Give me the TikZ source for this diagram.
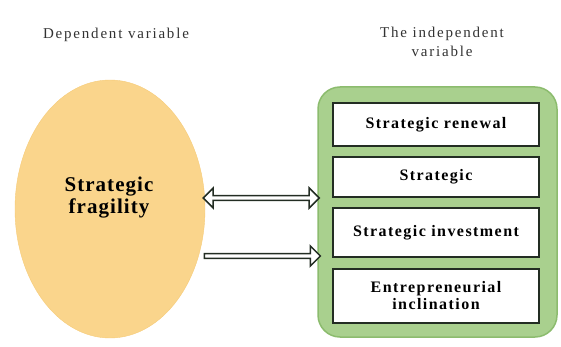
\documentclass[tikz,border=0pt]{standalone}
\usepackage{fontspec}
\setmainfont{Liberation Serif}
\usepackage{xcolor}
\usetikzlibrary{shapes,arrows.meta}
\usetikzlibrary{calc}

\definecolor{fragfill}{RGB}{250,213,140}
\definecolor{fragline}{RGB}{246,203,120}
\definecolor{panelfill}{RGB}{169,208,142}
\definecolor{panelline}{RGB}{140,188,110}
\definecolor{boxline}{RGB}{35,45,35}
\definecolor{txtgray}{RGB}{50,50,50}

\newfontfamily\headfont[LetterSpace=12]{Liberation Serif}
\newfontfamily\boxfont[LetterSpace=9]{Liberation Serif}
\newfontfamily\fragfont[LetterSpace=5]{Liberation Serif}

\begin{document}
\begin{tikzpicture}[x=1pt,y=-1pt]
        \tikzstyle{heading} = [align=center, text=txtgray, font=\headfont\fontsize{15}{19}\selectfont]
        \tikzstyle{frag} = [ellipse, fill=fragfill, draw=fragline, minimum width=190pt, minimum height=258pt, inner sep=0pt]
        \tikzstyle{panel} = [rectangle, rounded corners=22pt, fill=panelfill, draw=panelline, line width=1.5pt, minimum width=239pt, minimum height=250pt]
        \tikzstyle{factor} = [rectangle, draw=boxline, line width=1.8pt, fill=white, minimum width=206pt, align=center, font=\boxfont\bfseries\fontsize{16}{17}\selectfont]
        \tikzstyle{block} = [draw=boxline, line width=1.5pt, fill=white, inner sep=0pt, minimum width=20pt, minimum height=116pt]

        \useasboundingbox (0,0) rectangle (561,347);

        \node[heading] (dep) at (116,35) {Dependent variable};
        \node[heading] (indep) at (442,42) {The independent\\variable};

        \node[frag] (frag) at (110,209) {};
        \node[font=\fragfont\bfseries\fontsize{21}{22}\selectfont, align=center] (fragtext) at (109,198) {Strategic\\fragility};

        \node[panel] (panel) at (437.5,212) {};
        \node[factor, minimum height=43pt] (f1) at (436,124.5) {Strategic renewal};
        \node[factor, minimum height=40pt] (f2) at (436,177) {Strategic};
        \node[factor, minimum height=49pt] (f3) at (436,232.5) {Strategic investment};
        \node[factor, minimum height=54pt] (f4) at (436,296) {Entrepreneurial\\inclination};

        \coordinate (y1) at (0,198);
        \coordinate (y2) at (0,256);
        \node[block, double arrow, double arrow head extend=2.5pt] (both) at ($(frag.east |- y1)!0.5!(panel.west |- y1)$) {};
        \node[block, single arrow, single arrow head extend=2.5pt] (one) at ($(frag.east |- y2)!0.5!(panel.west |- y2)$) {};
\end{tikzpicture}
\end{document}
